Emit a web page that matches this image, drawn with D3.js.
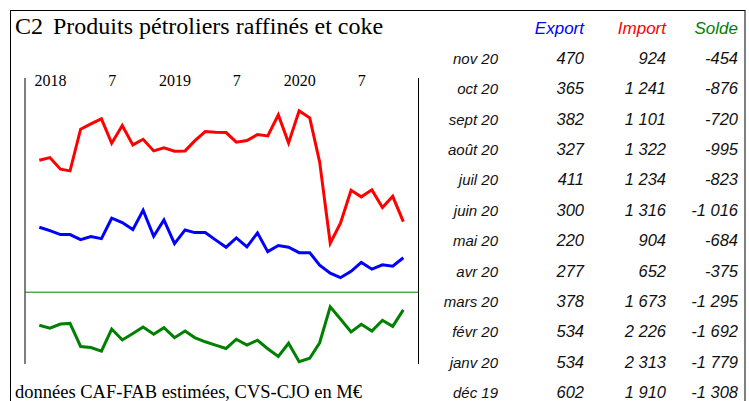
<!DOCTYPE html>
<html>
<head>
<meta charset="utf-8">
<script src="https://cdn.jsdelivr.net/npm/d3@7"></script>
<style>
  body { margin: 0; background: #fff; }
  svg { display: block; }
</style>
</head>
<body>
<div id="chart"></div>
<script>
// monthly series, déc 2017 -> nov 2020 (M€)
const exportVals = [853, 811, 761, 761, 698, 736, 710, 966, 911, 823, 1066, 740,
  945, 648, 819, 786, 786, 694, 602, 719, 606, 782, 547, 623,
  602, 534, 534, 378, 277, 220, 300, 411, 327, 382, 365, 470];
const importVals = [1694, 1727, 1581, 1560, 2083, 2150, 2213, 1907, 2129, 1886, 1957, 1811,
  1849, 1807, 1811, 1936, 2054, 2045, 2041, 1920, 1941, 2016, 1999, 2263,
  1910, 2313, 2226, 1673, 652, 904, 1316, 1234, 1322, 1101, 1241, 924];
const soldeVals = [-845, -922, -815, -799, -1390, -1418, -1510, -944, -1222, -1058, -893, -1075,
  -908, -1165, -995, -1162, -1270, -1356, -1441, -1205, -1356, -1230, -1448, -1645,
  -1308, -1779, -1692, -1295, -375, -684, -1016, -823, -995, -720, -876, -454];
const tableMonths = ["nov 20", "oct 20", "sept 20", "août 20", "juil 20", "juin 20",
  "mai 20", "avr 20", "mars 20", "févr 20", "janv 20", "déc 19"];
const headers = ["Export", "Import", "Solde"];

const dates = d3.timeMonth.range(new Date(2017, 11, 1), new Date(2020, 11, 1));

const W = 749, H = 401;
const serif = "'Liberation Serif', 'Times New Roman', serif";
const sans = "'Liberation Sans', Arial, sans-serif";

const svg = d3.select('#chart')
  .append('svg')
  .attr('width', W)
  .attr('height', H);

// outer frame
svg.append('rect')
  .attr('x', 10.5).attr('y', 10.5)
  .attr('width', 734.5).attr('height', 400)
  .attr('fill', 'none')
  .attr('stroke', '#000')
  .attr('stroke-width', 1);

// title
svg.append('text')
  .attr('x', 15).attr('y', 34)
  .style('font-family', serif)
  .style('font-size', '24px')
  .text('C2');
svg.append('text')
  .attr('x', 53).attr('y', 34)
  .style('font-family', serif)
  .style('font-size', '24px')
  .text('Produits pétroliers raffinés et coke');

// scales
const x = d3.scaleTime()
  .domain([dates[0], dates[dates.length - 1]])
  .range([39.3, 403.3]);

const yTop = d3.scaleLinear()
  .domain([0, 2500])
  .range([295.2, 96.0]);

const yBot = d3.scaleLinear()
  .domain([-2000, 0])
  .range([370.3, 292.2]);

// plot side lines
const plotLeft = 25, plotRight = 418.5, plotTop = 78, plotBottom = 364;
svg.append('line')
  .attr('x1', plotLeft).attr('x2', plotLeft)
  .attr('y1', plotTop).attr('y2', plotBottom)
  .attr('stroke', '#000').attr('stroke-width', 1);
svg.append('line')
  .attr('x1', plotRight).attr('x2', plotRight)
  .attr('y1', plotTop).attr('y2', plotBottom)
  .attr('stroke', '#000').attr('stroke-width', 1);

// zero line for solde
svg.append('line')
  .attr('x1', plotLeft).attr('x2', plotRight)
  .attr('y1', yBot(0)).attr('y2', yBot(0))
  .attr('stroke', '#008000').attr('stroke-width', 1);

// x axis labels (year in january, 7 in july)
const fmtTick = d => d.getMonth() === 0 ? String(d.getFullYear()) : String(d.getMonth() + 1);
const xAxis = svg.append('g')
  .attr('transform', 'translate(0,86)')
  .call(d3.axisTop(x).ticks(d3.timeMonth.filter(d => d.getMonth() % 6 === 0)).tickFormat(fmtTick).tickSize(0));
xAxis.select('.domain').remove();
xAxis.selectAll('text')
  .attr('y', 0)
  .attr('dy', 0)
  .attr('fill', '#000')
  .style('font-family', serif)
  .style('font-size', '16px');

// lines
const series = [
  { vals: importVals, color: '#ff0000', y: yTop },
  { vals: exportVals, color: '#0000ff', y: yTop },
  { vals: soldeVals, color: '#008000', y: yBot }
];
series.forEach(s => {
  const line = d3.line()
    .x((d, i) => x(dates[i]))
    .y(d => s.y(d));
  svg.append('path')
    .datum(s.vals)
    .attr('fill', 'none')
    .attr('stroke', s.color)
    .attr('stroke-width', 3)
    .attr('stroke-linejoin', 'miter')
    .attr('d', line);
});

// footer
svg.append('text')
  .attr('x', 15).attr('y', 398)
  .style('font-family', serif)
  .style('font-size', '18.5px')
  .text('données CAF-FAB estimées, CVS-CJO en M€');

// table of the last 12 months
const fr = d3.formatLocale({ decimal: ',', thousands: '\u00a0', grouping: [3], currency: ['', ' €'], minus: '-' });
const fmt = fr.format(',d');
const colX = [584, 666, 738];
const headColors = ['#0000ff', '#ff0000', '#008000'];
const table = svg.append('g');

headers.forEach((h, j) => {
  table.append('text')
    .attr('x', colX[j]).attr('y', 34)
    .attr('text-anchor', 'end')
    .attr('fill', headColors[j])
    .style('font-family', sans)
    .style('font-style', 'italic')
    .style('font-size', '17px')
    .text(h);
});

const n = dates.length;
const cols = [exportVals, importVals, soldeVals];
const rowY = d3.scaleLinear().domain([0, 11]).range([64, 398]);

tableMonths.forEach((m, i) => {
  const idx = n - 1 - i;
  table.append('text')
    .attr('x', 498).attr('y', rowY(i))
    .attr('text-anchor', 'end')
    .attr('fill', '#111')
    .style('font-family', sans)
    .style('font-style', 'italic')
    .style('font-size', '15px')
    .text(m);
  cols.forEach((c, j) => {
    table.append('text')
      .attr('x', colX[j]).attr('y', rowY(i))
      .attr('text-anchor', 'end')
      .attr('fill', '#111')
      .style('font-family', sans)
      .style('font-style', 'italic')
      .style('font-size', '16.5px')
      .text(fmt(c[idx]));
  });
});
</script>
</body>
</html>
